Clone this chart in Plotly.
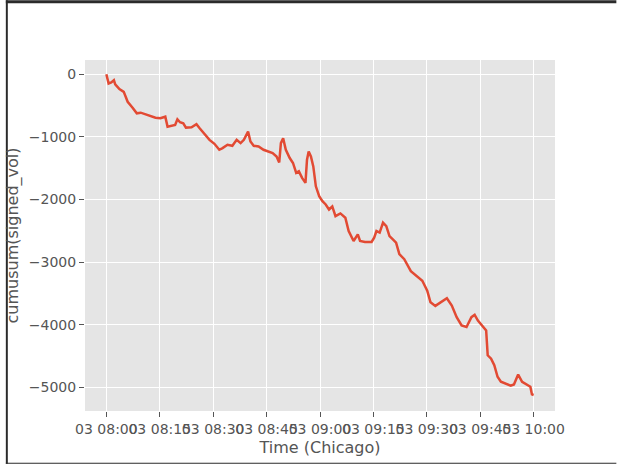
"""Cumulative signed volume over the morning session, ggplot-like look."""

import plotly.graph_objects as go

SESSION_DATE = "2024-01-03"

# sample times (Chicago) and the cumulative signed volume read at each of them
times = [
    "08:00:00", "08:00:38", "08:01:23", "08:02:07", "08:02:29", "08:03:40", "08:04:53", "08:05:59", "08:07:22", "08:08:33",
    "08:09:39", "08:11:02", "08:12:25", "08:13:48", "08:15:10", "08:16:33", "08:17:11", "08:18:24", "08:19:19", "08:19:57",
    "08:20:41", "08:21:36", "08:22:21", "08:23:55", "08:25:18", "08:26:12", "08:27:35", "08:28:58", "08:30:21", "08:31:43",
    "08:32:38", "08:34:01", "08:35:23", "08:36:36", "08:37:42", "08:38:37", "08:39:48", "08:40:28", "08:41:23", "08:42:45",
    "08:44:08", "08:45:31", "08:46:42", "08:47:48", "08:48:33", "08:49:01", "08:49:39", "08:50:24", "08:51:30", "08:52:25",
    "08:53:19", "08:54:04", "08:54:58", "08:55:55", "08:56:21", "08:56:49", "08:57:27", "08:58:07", "08:58:50", "08:59:46",
    "09:00:41", "09:01:36", "09:02:32", "09:03:27", "09:04:21", "09:05:44", "09:07:07", "09:08:03", "09:09:26", "09:10:37",
    "09:11:15", "09:12:38", "09:14:29", "09:15:13", "09:15:51", "09:16:46", "09:17:42", "09:18:37", "09:19:31", "09:20:28",
    "09:21:22", "09:22:17", "09:23:40", "09:25:31", "09:27:10", "09:28:44", "09:30:07", "09:31:02", "09:32:24", "09:33:47",
    "09:35:38", "09:37:01", "09:38:23", "09:39:46", "09:41:09", "09:42:32", "09:43:26", "09:44:21", "09:45:44", "09:46:40",
    "09:47:06", "09:48:03", "09:48:57", "09:49:52", "09:50:48", "09:52:11", "09:53:34", "09:54:28", "09:55:39", "09:56:46",
    "09:58:08", "09:59:05", "09:59:31", "10:00:00",
]
cum_signed_vol = [
    0, -148, -132, -95, -163, -238, -281, -440, -535, -624,
    -614, -640, -678, -694, -703, -678, -837, -821, -810, -719,
    -767, -783, -852, -846, -798, -862, -957, -1048, -1111, -1206,
    -1179, -1127, -1143, -1048, -1100, -1048, -916, -1075, -1143, -1154,
    -1206, -1233, -1259, -1313, -1408, -1100, -1021, -1206, -1338, -1417,
    -1576, -1551, -1655, -1735, -1365, -1233, -1313, -1471, -1789, -1948,
    -2027, -2079, -2159, -2111, -2265, -2222, -2290, -2503, -2662, -2556,
    -2662, -2678, -2678, -2608, -2503, -2528, -2370, -2424, -2583, -2635,
    -2687, -2873, -2952, -3143, -3217, -3297, -3455, -3640, -3698, -3640,
    -3576, -3694, -3878, -4011, -4036, -3878, -3841, -3932, -4036, -4090,
    -4487, -4540, -4646, -4830, -4909, -4936, -4973, -4952, -4794, -4909,
    -4963, -4989, -5111, -5120,
]

WIDTH, HEIGHT = 617, 466
MARGIN = {"l": 80, "r": 62, "t": 60, "b": 53}
TEXT_GREY = "#555555"
FONT = "DejaVu Sans"


def frame_shapes() -> list:
    """Dark notebook-cell border (top, left, bottom), placed in paper units."""
    pw = WIDTH - MARGIN["l"] - MARGIN["r"]
    ph = HEIGHT - MARGIN["t"] - MARGIN["b"]

    def px(x):
        return (x - MARGIN["l"]) / pw

    def py(y):
        return (HEIGHT - MARGIN["b"] - y) / ph

    style = {"type": "rect", "xref": "paper", "yref": "paper", "fillcolor": "#2b2b2b", "line": {"width": 0}, "layer": "above"}
    return [
        dict(style, x0=px(0), x1=px(WIDTH), y0=py(0), y1=py(3)),
        dict(style, x0=px(0), x1=px(2), y0=py(0), y1=py(HEIGHT)),
        dict(style, x0=px(0), x1=px(WIDTH), y0=py(HEIGHT - 1), y1=py(HEIGHT)),
    ]


def plot() -> go.Figure:
    """Build the cumulative signed volume figure."""
    stamps = [f"{SESSION_DATE} {t}" for t in times]
    fig = go.Figure(
        go.Scatter(
            x=stamps,
            y=cum_signed_vol,
            mode="lines",
            line={"color": "#E24A33", "width": 2.5},
            showlegend=False,
        )
    )
    fig.update_layout(
        width=WIDTH,
        height=HEIGHT,
        margin=MARGIN,
        paper_bgcolor="white",
        plot_bgcolor="#E5E5E5",
        font={"family": FONT, "color": TEXT_GREY, "size": 13},
        shapes=frame_shapes(),
    )
    tick_font = {"family": FONT, "color": TEXT_GREY, "size": 14}
    fig.update_xaxes(
        range=[f"{SESSION_DATE} 07:54:00", f"{SESSION_DATE} 10:06:00"],
        tick0=f"{SESSION_DATE} 08:00:00",
        dtick=15 * 60 * 1000,
        tickformat="%d %H:%M",
        tickangle=0,
        tickfont=tick_font,
        ticks="outside",
        ticklen=5,
        tickcolor=TEXT_GREY,
        showgrid=True,
        gridcolor="white",
        gridwidth=1.2,
        zeroline=False,
        showline=False,
        title={"text": "Time (Chicago)", "font": {"family": FONT, "size": 16}, "standoff": 6},
    )
    fig.update_yaxes(
        range=[-5376, 227],
        dtick=1000,
        exponentformat="none",
        tickfont=tick_font,
        ticks="outside",
        ticklen=5,
        tickcolor=TEXT_GREY,
        showgrid=True,
        gridcolor="white",
        gridwidth=1.2,
        zeroline=False,
        showline=False,
        title={"text": "cumusum(signed_vol)", "font": {"family": FONT, "size": 16}, "standoff": 6},
    )
    return fig


fig = plot()
fig.write_html(
    "out.html",
    config={"displayModeBar": False},
    post_script="document.body.style.margin = '0';",
)
